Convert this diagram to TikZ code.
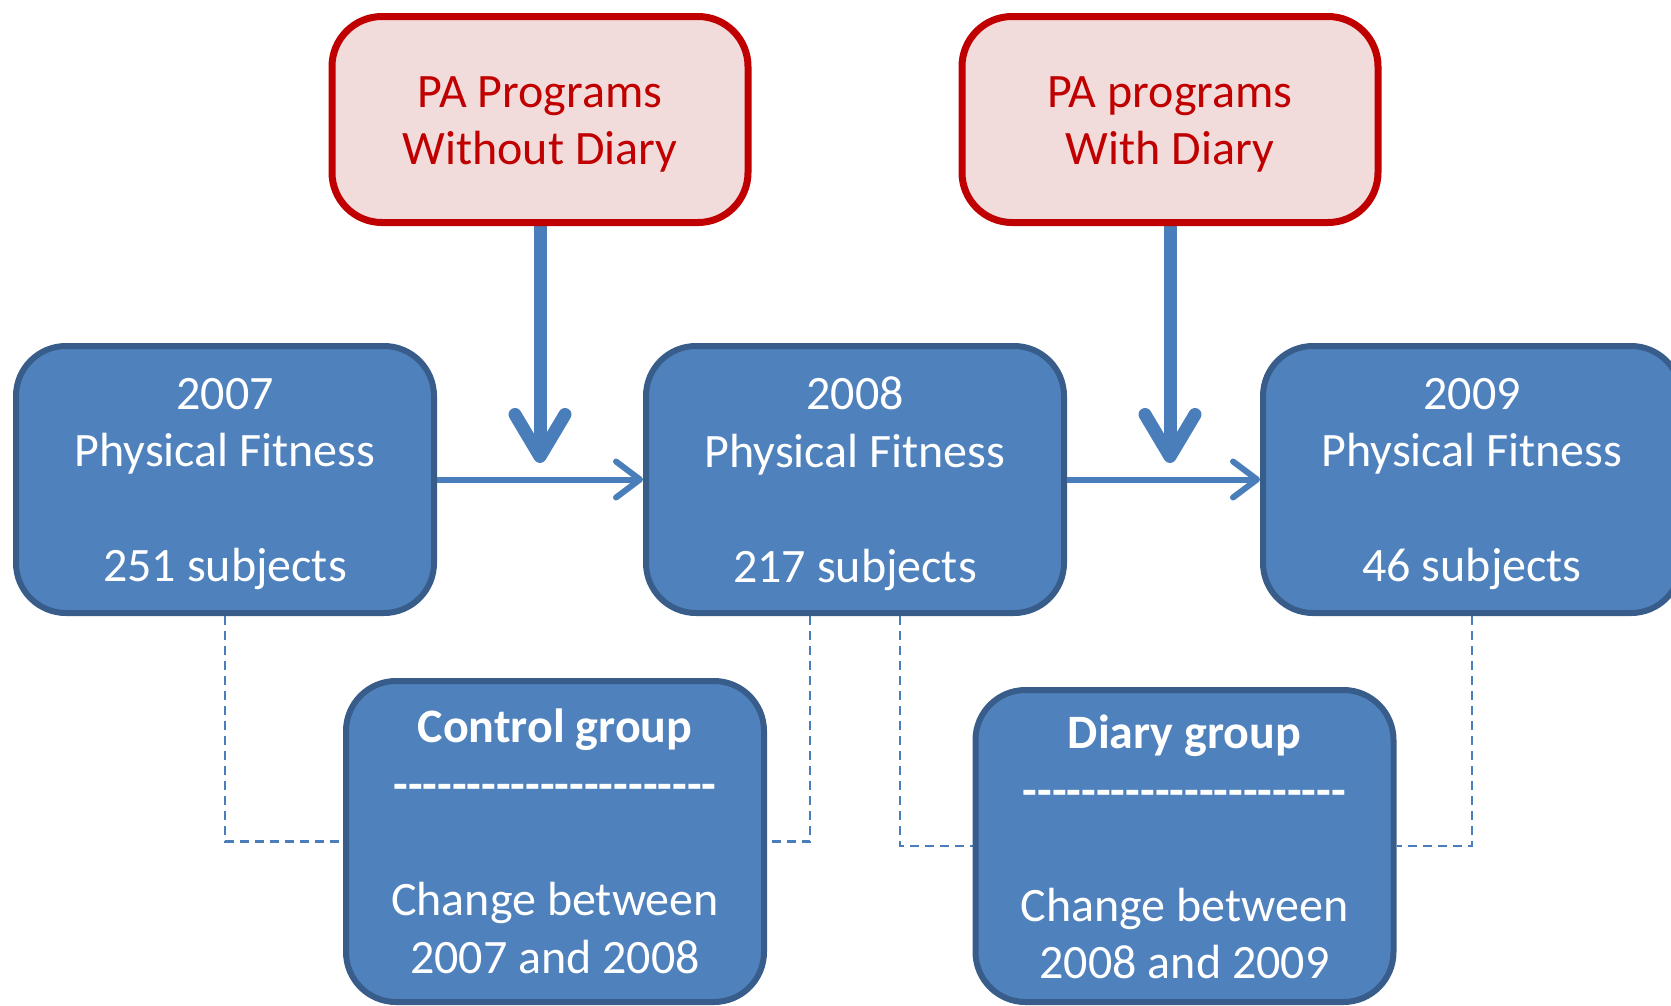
\documentclass[tikz,border=0pt]{standalone}
\usepackage{fontspec}
\setmainfont{Carlito}
\usetikzlibrary{arrows.meta,backgrounds}
\definecolor{bfill}{HTML}{4F81BD}
\definecolor{bdraw}{HTML}{385D8A}
\definecolor{rfill}{HTML}{F2DCDB}
\definecolor{rdraw}{HTML}{C00000}
\definecolor{arr}{HTML}{4A7EBB}
\newcommand\hy{\mbox{-}}
\newcommand\dashrow{\hy\hy\hy\hy\hy\hy\hy\hy\hy\hy\hy\hy\hy\hy\hy\hy\hy\hy\hy\hy\hy\hy}
\begin{document}
\begin{tikzpicture}[x=1pt,y=-1pt,
  boxfont/.style={font=\fontsize{48}{57.6}\selectfont},
  bluebox/.style={draw=bdraw, fill=bfill, line width=6pt, rounded corners=50pt,
    minimum width=418pt, inner sep=0pt},
  redbox/.style={draw=rdraw, fill=rfill, line width=7pt, rounded corners=50pt,
    minimum width=416pt, minimum height=206pt, inner sep=0pt},
  bluetext/.style={boxfont, text=white, align=center, inner sep=0pt},
  redtext/.style={boxfont, text=rdraw, align=center, inner sep=0pt},
  varrow/.style={draw=arr, line width=13pt, -{Straight Barb[length=42pt,width=50pt,round]}},
  harrow/.style={draw=arr, line width=6pt, -{Straight Barb[length=24pt,width=36pt,round]}},
  dashline/.style={draw=arr, line width=2.5pt, dash pattern=on 9pt off 6pt}
]
\useasboundingbox (0,0) rectangle (1671,1005);

\node[redbox] (r1) at (540,119.5) {};
\node[redbox] (r2) at (1170,119.5) {};
\node[redtext] (r1t) at ([yshift=-5pt]r1.center) {PA Programs\\Without Diary};
\node[redtext] (r2t) at ([yshift=-5pt]r2.center) {PA programs\\With Diary};

\node[bluebox, minimum height=267pt] (b07) at (225,479.5) {};
\node[bluebox, minimum height=267pt] (b08) at (855,479.5) {};
\node[bluebox, minimum height=267pt] (b09) at (1472,479.5) {};
\node[bluetext] (b07t) at ([yshift=-4.5pt]b07.center) {2007\\Physical Fitness\\[57.6pt]251 subjects};
\node[bluetext] (b08t) at ([yshift=-4.5pt]b08.center) {2008\\Physical Fitness\\[57.6pt]217 subjects};
\node[bluetext] (b09t) at ([yshift=-4.5pt]b09.center) {2009\\Physical Fitness\\[57.6pt]46 subjects};

\node[bluebox, minimum height=321pt] (ctl) at (555,841.5) {};
\node[bluebox, minimum height=312pt] (dia) at (1184.5,846) {};
\node[bluetext] (ctlt) at (ctl.center) {\textbf{Control group}\\\textbf{\dashrow}\\[57.6pt]Change between\\2007 and 2008};
\node[bluetext] (diat) at ([yshift=-1pt]dia.center) {\textbf{Diary group}\\\textbf{\dashrow}\\[57.6pt]Change between\\2008 and 2009};

\coordinate (t1) at (540,463);
\coordinate (t2) at (1170,463);

\begin{scope}[on background layer]
  \draw[varrow] (r1.south) -- (t1);
  \draw[varrow] (r2.south) -- (t2);
  \draw[dashline] (b07.south) |- (ctl.west);
  \draw[dashline] ([xshift=-45pt]b08.south) |- (ctl.east);
  \draw[dashline] ([xshift=45pt]b08.south) |- (dia.west);
  \draw[dashline] (b09.south) |- (dia.east);
\end{scope}
\draw[harrow] (b07.east) -- (b08.west);
\draw[harrow] (b08.east) -- (b09.west);
\end{tikzpicture}
\end{document}
